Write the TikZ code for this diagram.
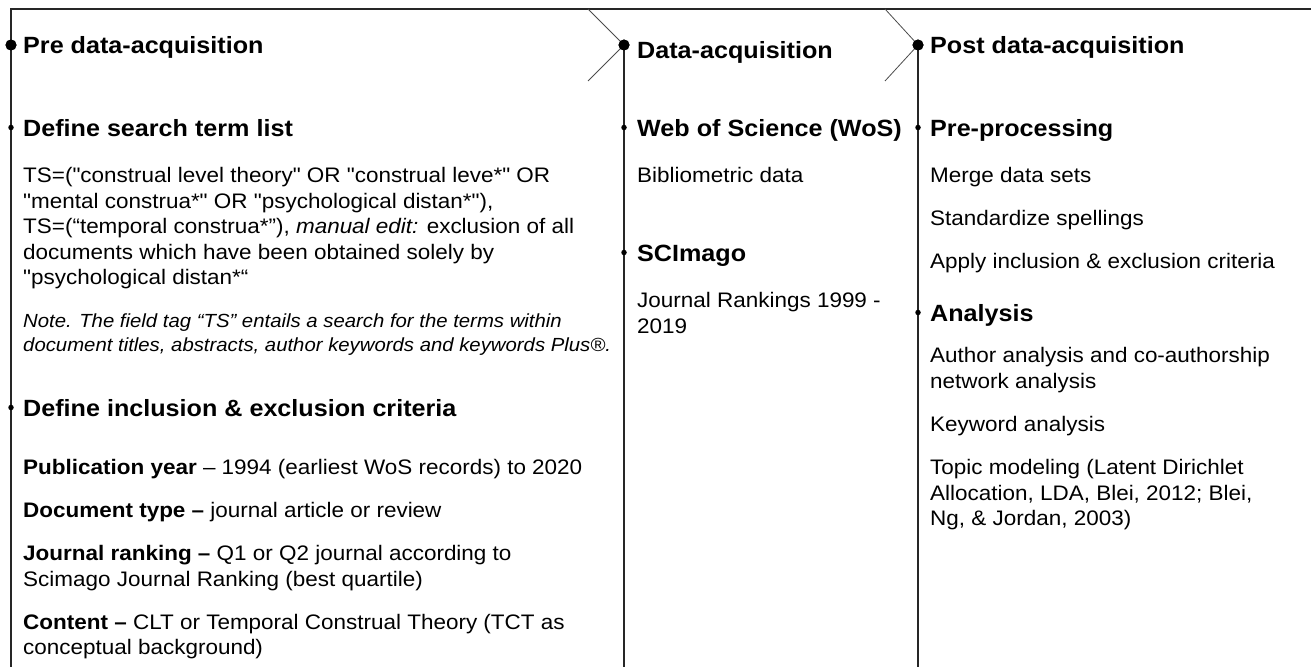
\documentclass[tikz,border=0pt]{standalone}
\usepackage{fontspec}
\setmainfont{Liberation Sans}[FakeStretch=1.07,Ligatures=TeXOff]
\begin{document}
\begin{tikzpicture}[x=1pt,y=-1pt,
  bigdot/.style={circle,fill=black,inner sep=0pt,minimum size=11pt},
  smalldot/.style={circle,fill=black,inner sep=0pt,minimum size=5.5pt},
  phase/.style={anchor=base west,inner sep=0pt,font=\fontsize{23.5}{28}\selectfont\bfseries},
  % multi-line texts are placed by the baseline of their last line
  body/.style={anchor=base west,inner sep=0pt,align=left,font=\fontsize{21}{25.5}\selectfont},
  notetext/.style={anchor=base west,inner sep=0pt,align=left,font=\fontsize{19}{24}\selectfont\itshape},
  rule/.style={line width=1.3pt,black!85},
  slant/.style={line width=0.8pt,black!70}]
\useasboundingbox (0,0) rectangle (1311,667);

% phase markers on the timeline
\node[bigdot] (p1) at (11,45) {};
\node[bigdot] (p2) at (624,45) {};
\node[bigdot] (p3) at (918,45) {};
\coordinate (tl) at (11,9);
\coordinate (tr) at (1311,9);
\coordinate (b1) at (11,667);
\coordinate (b2) at (624,667);
\coordinate (b3) at (918,667);
\coordinate (s2a) at (588,9);
\coordinate (s2b) at (588,81);
\coordinate (s3a) at (885,9);
\coordinate (s3b) at (885,81);

% frame and column rules
\draw[rule] (tr) -- (tl) -- (b1);
\draw[rule] (p2.center) -- (b2);
\draw[rule] (p3.center) -- (b3);
\draw[slant] (s2a) -- (p2.center) -- (s2b);
\draw[slant] (s3a) -- (p3.center) -- (s3b);
\node[bigdot] at (p1) {};
\node[bigdot] at (p2) {};
\node[bigdot] at (p3) {};

% step markers
\node[smalldot] (d11) at (11,127.5) {};
\node[smalldot] (d12) at (11,407.5) {};
\node[smalldot] (d21) at (624,127.5) {};
\node[smalldot] (d22) at (624,252.5) {};
\node[smalldot] (d31) at (918,127.5) {};
\node[smalldot] (d32) at (918,312.5) {};

% phase titles
\node[phase] (t1) at (23,53) {Pre data-acquisition};
\node[phase] (t2) at (637,58) {Data-acquisition};
\node[phase] (t3) at (930,53.5) {Post data-acquisition};

% pre data-acquisition
\node[phase] (h11) at (23,136.5) {Define search term list};
\node[body] (ts) at (23,284.5) {TS=("construal level theory" OR "construal leve*" OR\\
"mental construa*" OR "psychological distan*"),\\
TS=(“temporal construa*”), \textit{manual edit:} exclusion of all\\
documents which have been obtained solely by\\
"psychological distan*“};
\node[notetext] (note) at (23,351) {Note. The field tag “TS” entails a search for the terms within\\
document titles, abstracts, author keywords and keywords Plus®.};
\node[phase] (h12) at (23,416.5) {Define inclusion \& exclusion criteria};
\node[body] (c1) at (23,474.5) {\textbf{Publication year} – 1994 (earliest WoS records) to 2020};
\node[body] (c2) at (23,517.5) {\textbf{Document type –} journal article or review};
\node[body] (c3) at (23,586) {\textbf{Journal ranking –} Q1 or Q2 journal according to\\
Scimago Journal Ranking (best quartile)};
\node[body] (c4) at (23,654.5) {\textbf{Content –} CLT or Temporal Construal Theory (TCT as\\
conceptual background)};

% data-acquisition
\node[phase] (h21) at (637,136.5) {Web of Science (WoS)};
\node[body] (wos) at (637,182.5) {Bibliometric data};
\node[phase] (h22) at (637,261.5) {SCImago};
\node[body] (sci) at (637,333) {Journal Rankings 1999 -\\2019};

% post data-acquisition
\node[phase] (h31) at (930,136.5) {Pre-processing};
\node[body] (pp1) at (930,182.5) {Merge data sets};
\node[body] (pp2) at (930,225.5) {Standardize spellings};
\node[body] (pp3) at (930,268.5) {Apply inclusion \& exclusion criteria};
\node[phase] (h32) at (930,321.5) {Analysis};
\node[body] (an1) at (930,388) {Author analysis and co-authorship\\network analysis};
\node[body] (an2) at (930,431.5) {Keyword analysis};
\node[body] (an3) at (930,525.5) {Topic modeling (Latent Dirichlet\\Allocation, LDA, Blei, 2012; Blei,\\Ng, \& Jordan, 2003)};
\end{tikzpicture}
\end{document}
